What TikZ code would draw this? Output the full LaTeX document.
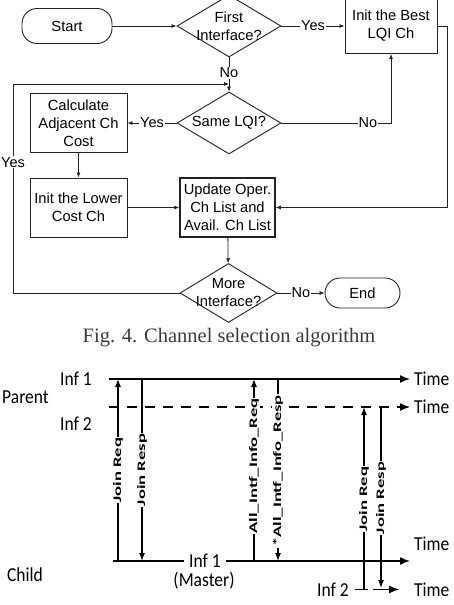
\documentclass[tikz,border=0pt]{standalone}
\usepackage{graphicx}
\usepackage{fontspec}
\setmainfont{Liberation Sans}
\newfontfamily\capfont{Liberation Serif}
\newfontfamily\calfont{Carlito}
\usetikzlibrary{shapes.geometric,arrows.meta}
\definecolor{ln}{HTML}{222222}
\definecolor{capc}{HTML}{3A3A3A}
\tikzset{
 fc/.style={font=\fontsize{14.7}{18}\selectfont, align=center},
 boxn/.style={draw=ln, line width=0.9pt, rectangle, inner sep=0pt, minimum width=97pt, minimum height=59pt, fc},
 term/.style={draw=ln, line width=0.9pt, rectangle, rounded corners=15pt, inner sep=0pt, fc},
 dia/.style={draw=ln, line width=0.9pt, diamond, inner sep=0pt, minimum width=104pt, minimum height=62pt},
 flow/.style={draw=ln, line width=0.8pt, -{Latex[length=5pt,width=4pt]}},
 plain/.style={draw=ln, line width=0.8pt},
 lab/.style={fill=white, inner sep=1pt, font=\fontsize{14.5}{17}\selectfont},
 tl/.style={font=\calfont\fontsize{17.5}{20}\selectfont, inner sep=0pt},
 sig/.style={line width=1.1pt, -{Latex[length=8pt,width=6pt]}},
 vl/.style={fill=white, inner sep=1pt, rotate=90, font=\calfont\bfseries\fontsize{11.5}{13}\selectfont},
 tline/.style={line width=1.5pt, -{Latex[length=10pt,width=8pt]}},
 tplain/.style={line width=1.5pt},
}
\begin{document}
\begin{tikzpicture}[x=1pt,y=-1pt]
\useasboundingbox[fill=white] (0,0) rectangle (453,605);

% ---------------- flowchart ----------------
\node[term, minimum width=90pt, minimum height=35pt] (start) at (67,26) {Start};
\node[dia, label={[fc]center:{First\\Interface?}}] (d1) at (229,26) {};
\node[boxn, minimum width=92pt, minimum height=55pt] (init) at (391,26) {Init the Best\\LQI Ch};
\node[dia, label={[fc]center:{Same LQI?}}] (d2) at (229,123) {};
\node[boxn] (calc) at (78.5,123) {Calculate\\Adjacent Ch\\Cost};
\node[boxn] (low) at (78.5,207.5) {Init the Lower\\Cost Ch};
\node[boxn, line width=1.5pt, minimum width=95pt] (upd) at (227.5,207.5) {Update Oper.\\Ch List and\\Avail. Ch List};
\node[dia, minimum width=97pt, minimum height=59pt, label={[fc]center:{More\\Interface?}}] (d3) at (228.5,293) {};
\node[term, minimum width=75pt, minimum height=30pt] (end) at (362.5,293) {End};

\coordinate (j) at (229,84);
\coordinate (lp) at (13,84);

\draw[flow] (start) -- (d1);
\draw[flow] (d1.east) -- node[lab]{Yes} (init.west);
\draw[plain] (d1.south) -- node[lab, pos=0.58]{No} (j);
\draw[flow] (j) -- (d2.north);
\draw[flow] (d2.west) -- node[lab]{Yes} (calc.east);
\draw[flow] (d2.east) -| node[lab, pos=0.395]{No} (init.south);
\draw[flow] (calc) -- (low);
\draw[flow] (low) -- (upd);
\draw[flow] (init.east) -- ++(10,0) |- (upd.east);
\draw[flow] (upd) -- (d3);
\draw[flow] (d3.east) -- node[lab]{No} (end.west);
\draw[flow] (d3.west) -| node[lab, pos=0.813]{Yes} (lp) -- (j);

% caption
\node[font=\capfont\fontsize{20.5}{24}\selectfont, text=capc, inner sep=0pt, anchor=base] (cap) at (229,342) {Fig. 4. Channel selection algorithm};

% ---------------- timing diagram ----------------
\coordinate (p1s) at (109,379); \coordinate (p1e) at (410,379);
\coordinate (p2s) at (109,407); \coordinate (p2a) at (398,407); \coordinate (p2e) at (410,407);
\coordinate (c1s) at (113,561); \coordinate (c1e) at (410,561);
\coordinate (c2a) at (355,589.5); \coordinate (c2b) at (368,589.5);
\coordinate (c2c) at (373,589.5); \coordinate (c2e) at (399,589.5);

\draw[tline] (p1s) -- (p1e);
\draw[tplain, line width=1.3pt, dash pattern=on 10pt off 8pt] (p2s) -- (p2a);
\draw[tline, line width=1.3pt] (p2a) -- (p2e);
\draw[tline] (c1s) -- (c1e);
\draw[tplain, line width=1.2pt] (c2a) -- (c2b);
\draw[tline, line width=1.2pt] (c2c) -- (c2e);

\coordinate (s1b) at (118,561); \coordinate (s1t) at (118,379);
\coordinate (s2t) at (142,379); \coordinate (s2b) at (142,561);
\coordinate (s3b) at (254,561); \coordinate (s3t) at (254,379);
\coordinate (s4t) at (278,379); \coordinate (s4b) at (278,561);
\coordinate (s5b) at (364,590); \coordinate (s5t) at (364,407);
\coordinate (s6t) at (381,407); \coordinate (s6b) at (381,588);

\draw[sig] (s1b) -- (s1t);
\draw[sig] (s2t) -- (s2b);
\draw[sig] (s3b) -- (s3t);
\draw[sig] (s4t) -- (s4b);
\draw[sig] (s5b) -- (s5t);
\draw[sig] (s6t) -- (s6b);

\node[vl] (l1) at (118,470) {\scalebox{1.62}[1]{Join Req}};
\node[vl] (l2) at (142,470) {\scalebox{1.62}[1]{Join Resp}};
\node[vl] (l3) at (254,466) {\scalebox{1.62}[1]{All\_Intf\_Info\_Req}};
\node[vl] (l4) at (278,471) {\scalebox{1.62}[1]{*All\_Intf\_Info\_Resp}};
\node[vl] (l5) at (364,499) {\scalebox{1.62}[1]{Join Req}};
\node[vl] (l6) at (381,498) {\scalebox{1.62}[1]{Join Resp}};

\node[tl] (tinf1) at (76,379) {\scalebox{1}[1.13]{Inf 1}};
\node[tl] (par) at (25.5,397) {\scalebox{1}[1.13]{Parent}};
\node[tl] (tinf2) at (76,424) {\scalebox{1}[1.13]{Inf 2}};
\node[tl, anchor=west] (time1) at (414,379) {\scalebox{1}[1.13]{Time}};
\node[tl, anchor=west] (time2) at (414,407) {\scalebox{1}[1.13]{Time}};
\node[tl, anchor=west] (time3) at (414,544) {\scalebox{1}[1.13]{Time}};
\node[tl, anchor=west] (time4) at (414,590) {\scalebox{1}[1.13]{Time}};
\node[tl] (child) at (25,575) {\scalebox{1}[1.13]{Child}};
\node[tl, fill=white, inner xsep=5pt] (cinf1) at (205,560.5) {\scalebox{1}[1.13]{Inf 1}};
\node[tl] (master) at (204,581) {\scalebox{1}[1.13]{(Master)}};
\node[tl] (cinf2) at (333,590) {\scalebox{1}[1.13]{Inf 2}};
\end{tikzpicture}
\end{document}
